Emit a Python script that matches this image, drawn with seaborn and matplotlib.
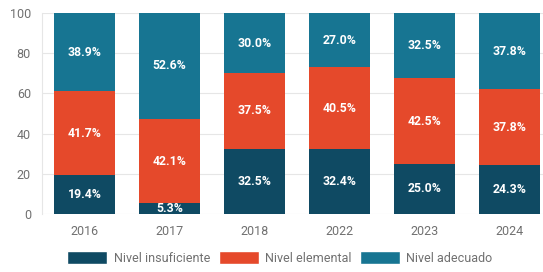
import matplotlib
matplotlib.use("Agg")
import matplotlib.pyplot as plt
import seaborn as sns
import pandas as pd
import numpy as np
from matplotlib.patches import Patch

years = ["2016", "2017", "2018", "2022", "2023", "2024"]
insuficiente = [19.4, 5.3, 32.5, 32.4, 25.0, 24.3]
elemental = [41.7, 42.1, 37.5, 40.5, 42.5, 37.8]
adecuado = [38.9, 52.6, 30.0, 27.0, 32.5, 37.8]
series_names = ["Nivel insuficiente", "Nivel elemental", "Nivel adecuado"]
colors = ["#0f4a63", "#e5492b", "#177592"]

sns.set_theme(style="white")
plt.rcParams['font.family'] = ['Roboto', 'DejaVu Sans']

fig = plt.figure(figsize=(5.43, 2.72), dpi=100)
ax = fig.add_axes([42/543, 58/272, 1 - 42/543, (214.3 - 13.3)/272])

series = [insuficiente, elemental, adecuado]
bottom = np.zeros(len(years))
for name, vals, col in zip(series_names, series, colors):
    df = pd.DataFrame({"year": years, "value": vals})
    sns.barplot(data=df, x="year", y="value", color=col, width=0.72,
                bottom=bottom, ax=ax, saturation=1, zorder=3, linewidth=0)
    for i, v in enumerate(vals):
        ax.text(i, bottom[i] + v / 2, f"{v:.1f}%", ha="center", va="center",
                color="white", fontsize=8.8, fontweight="bold", zorder=4)
    bottom = bottom + np.array(vals)

ax.set_ylim(0, 100)
ax.set_xlim(-0.5, 5.5 - 9/85)
ax.set_yticks([0, 20, 40, 60, 80, 100])
ax.grid(axis="y", color="#e6e6e6", linewidth=0.8, zorder=0)
for s in ["top", "right", "bottom"]:
    ax.spines[s].set_visible(False)
ax.spines["left"].set_color("#e6e6e6")
ax.spines["left"].set_linewidth(0.8)
ax.set_xlabel("")
ax.set_ylabel("")
ax.tick_params(axis="both", colors="#707070", labelsize=9, length=0)
ax.tick_params(axis="x", pad=8)
ax.tick_params(axis="y", pad=8)

handles = [Patch(facecolor=c, label=n) for n, c in zip(series_names, colors)]
fig.legend(handles=handles, loc="center", bbox_to_anchor=(280/543, 1 - 258/272),
           ncol=3, frameon=False, fontsize=9, handlelength=3.2, handleheight=1.2,
           columnspacing=0.7, handletextpad=0.5, labelcolor="#707070")

fig.savefig("out.png", dpi=100)
